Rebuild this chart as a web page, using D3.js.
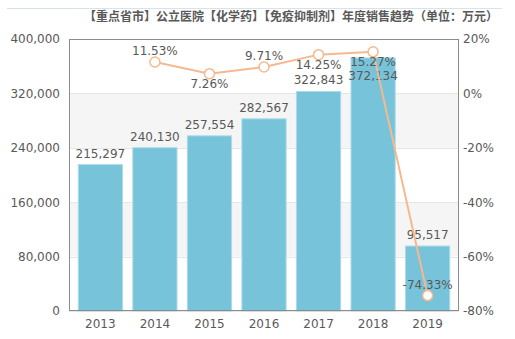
<!DOCTYPE html>
<html><head><meta charset="utf-8">
<script src="https://cdn.jsdelivr.net/npm/d3@7"></script>
<style>body{margin:0;background:#fff}svg{display:block}</style>
</head><body>
<svg id="c" width="515" height="339"></svg>
<script>
const title = "【重点省市】公立医院【化学药】【免疫抑制剂】年度销售趋势（单位：万元）";
const years = ["2013","2014","2015","2016","2017","2018","2019"];
const sales = [215297,240130,257554,282567,322843,372134,95517];
const growth = [null,11.53,7.26,9.71,14.25,15.27,-74.33];
const growthLabelPos = [null,"above","below","above","below","below","above"];
const leftTicks = [0,80000,160000,240000,320000,400000];
const rightTicks = [20,0,-20,-40,-60,-80];

const svg = d3.select("#c");
const L=69, R=459, T=39, B=311;
const font = "DejaVu Sans, Verdana, sans-serif";
const txt = "#595959";

svg.append("line").attr("x1",7).attr("x2",502).attr("y1",8.5).attr("y2",8.5)
  .attr("stroke","#d6e2ee").attr("stroke-width",1);
svg.append("text").attr("x",498).attr("y",21).attr("text-anchor","end")
  .attr("font-family","Noto Sans CJK SC, sans-serif").attr("font-size",12).attr("font-weight","bold")
  .attr("fill",txt).text(title);

const x = d3.scaleBand().domain(years).range([L,R]).paddingInner(0.19).paddingOuter(0.17);
const y = d3.scaleLinear().domain([0,400000]).range([B,T]);
const y2 = d3.scaleLinear().domain([-80,20]).range([B,T]);

// bands
for(let i=0;i<leftTicks.length-1;i++){
  if(i%2===1){
    svg.append("rect").attr("x",L).attr("width",R-L)
      .attr("y",y(leftTicks[i+1])).attr("height",y(leftTicks[i])-y(leftTicks[i+1]))
      .attr("fill","#f5f5f5");
  }
}
svg.selectAll(".grid").data(leftTicks).enter().append("line")
  .attr("x1",L).attr("x2",R).attr("y1",d=>Math.round(y(d))+0.5).attr("y2",d=>Math.round(y(d))+0.5)
  .attr("stroke","#e6e6e6");

// bars
svg.selectAll(".bar").data(sales).enter().append("rect")
  .attr("x",(d,i)=>x(years[i])).attr("width",x.bandwidth())
  .attr("y",d=>y(d)).attr("height",d=>B-y(d))
  .attr("fill","#77c4da").attr("stroke","#a9dbe9").attr("stroke-width",1);

const pctBaseline = i => y2(growth[i]) + (growthLabelPos[i]==="above" ? -7 : 14);
const barLabelY = (d,i) => {
  const top = y(d);
  if (growth[i]!==null && growthLabelPos[i]==="below" && top < pctBaseline(i)) return pctBaseline(i)+14;
  return top - 7;
};
svg.selectAll(".bl").data(sales).enter().append("text")
  .attr("x",(d,i)=>x(years[i])+x.bandwidth()/2).attr("y",barLabelY)
  .attr("text-anchor","middle").attr("font-family",font).attr("font-size",12).attr("fill",txt)
  .text(d=>d3.format(",")(d));

// frame
const frame = svg.append("g").attr("stroke","#8c8c8c").attr("stroke-width",1).attr("fill","none");
frame.append("rect").attr("x",L+0.5).attr("y",T+0.5).attr("width",R-L-1).attr("height",B-T-1);

// axes
const ax = svg.append("g").attr("transform",`translate(${L},0)`)
  .call(d3.axisLeft(y).tickValues(leftTicks).tickFormat(d3.format(",")).tickSize(0).tickPadding(9));
const ax2 = svg.append("g").attr("transform",`translate(${R},0)`)
  .call(d3.axisRight(y2).tickValues(rightTicks).tickFormat(d=>d+"%").tickSize(0).tickPadding(4));
const ax3 = svg.append("g").attr("transform",`translate(0,${B})`)
  .call(d3.axisBottom(x).tickSize(0).tickPadding(8));
[ax,ax2,ax3].forEach(a=>{
  a.select(".domain").remove();
  a.selectAll("text").attr("font-family",font).attr("font-size",12).attr("fill",txt);
});

// line
const pts = growth.map((g,i)=>({g,i})).filter(p=>p.g!==null);
const cx = p=>x(years[p.i])+x.bandwidth()/2;
svg.append("path").datum(pts)
  .attr("d",d3.line().x(cx).y(p=>y2(p.g)))
  .attr("fill","none").attr("stroke","#f6b98e").attr("stroke-width",2);
svg.selectAll(".pt").data(pts).enter().append("circle")
  .attr("cx",cx).attr("cy",p=>y2(p.g)).attr("r",5)
  .attr("fill","#fff").attr("stroke","#f6b98e").attr("stroke-width",1.5);
svg.selectAll(".pl").data(pts).enter().append("text")
  .attr("x",cx).attr("y",p=>pctBaseline(p.i))
  .attr("text-anchor","middle").attr("font-family",font).attr("font-size",12).attr("fill",txt)
  .text(p=>p.g.toFixed(2)+"%");
</script>
</body></html>
